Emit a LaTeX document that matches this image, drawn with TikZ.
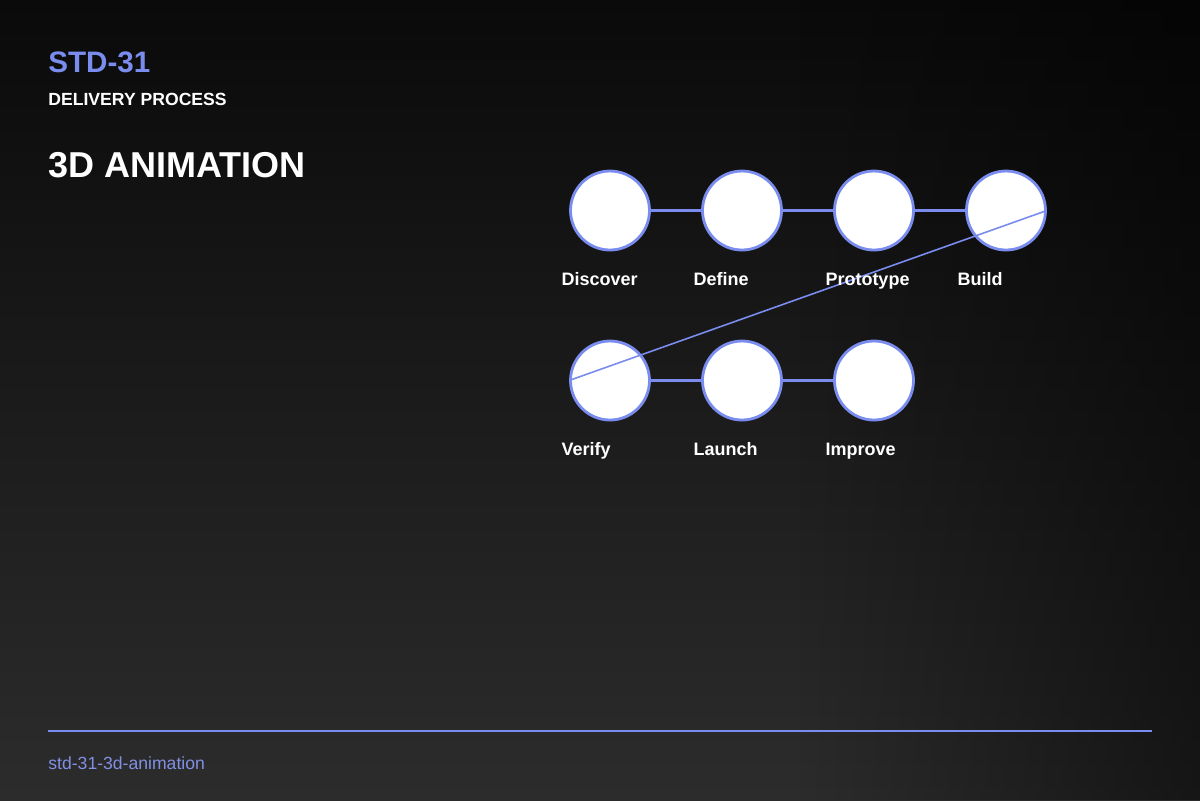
\documentclass[tikz,border=0pt]{standalone}
\usepackage{fontspec}
\setmainfont{Liberation Sans}
\usetikzlibrary{calc,matrix,positioning,fadings}
\definecolor{accent}{RGB}{122,140,238}
\definecolor{footc}{RGB}{130,144,228}
\definecolor{bgtop}{RGB}{10,10,10}
\definecolor{bgbot}{RGB}{44,44,44}
\tikzset{stage/.style={circle,draw=accent,line width=1.4pt,fill=white,minimum size=39.5pt,inner sep=0pt},
  lbl/.style={font=\bfseries\fontsize{9}{11}\selectfont,text=white,anchor=base west,inner sep=0pt}}

\begin{document}
\begin{tikzpicture}[x=0.5pt,y=-0.5pt]
  \useasboundingbox (0,0) rectangle (1200,800);
  \fill[top color=bgtop,bottom color=bgbot] (0,0) rectangle (1200,800);
  \fill[black,fill opacity=0.5,path fading=west] (800,0) rectangle (1200,800);
  % heading
  \node[anchor=base west,inner sep=0pt,text=accent,font=\bfseries\fontsize{14.8}{17}\selectfont] (code) at (48,72) {STD-31};
  \node[anchor=base west,inner sep=0pt,text=white,font=\bfseries\fontsize{8.8}{10}\selectfont] (sub) at (48,105) {DELIVERY PROCESS};
  \node[anchor=base west,inner sep=0pt,text=white,font=\bfseries\fontsize{18}{21}\selectfont] (title) at (48,177) {3D ANIMATION};
  % stages
  \matrix (m) [matrix of nodes,nodes={stage},row sep=44.1pt,column sep=25.1pt] at (808,295.5)
  {
    {} & {} & {} & {} \\
    {} & {} & {} \\};
  \path[draw=accent,line width=1.5pt]
    (m-1-1) edge (m-1-2)
    (m-1-2) edge (m-1-3)
    (m-1-3) edge (m-1-4)
    (m-2-1) edge (m-2-2)
    (m-2-2) edge (m-2-3);
  \draw[accent,line width=0.8pt] (m-1-4.east) -- (m-2-1.west);
  \foreach \lab [count=\i] in {Discover,Define,Prototype,Build}
    \node[lbl] (l1-\i) at ($(m-1-\i.west)+(-8,74.5)$) {\lab};
  \foreach \lab [count=\i] in {Verify,Launch,Improve}
    \node[lbl] (l2-\i) at ($(m-2-\i.west)+(-8,74.5)$) {\lab};
  % footer
  \coordinate (rule-l) at (48,731);
  \coordinate (rule-r) at (1152,731);
  \draw[accent,line width=1pt] (rule-l) -- (rule-r);
  \node[anchor=base west,inner sep=0pt,text=footc,font=\fontsize{8.8}{10}\selectfont] (slug) at (48,769) {std-31-3d-animation};
\end{tikzpicture}
\end{document}
